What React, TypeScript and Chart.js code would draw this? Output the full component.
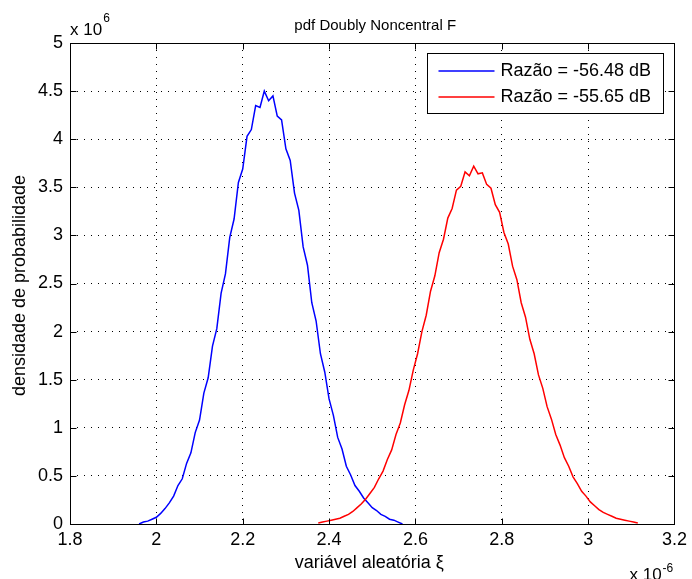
import React, { useEffect, useRef } from 'react';
import { Chart, registerables } from 'chart.js';

Chart.register(...registerables);

const FONT = "'Liberation Sans', Arial, Helvetica, sans-serif";

// ---- data (x in units of 1e-6, y in units of 1e6) ----
const xTickValues = [1.8, 2.0, 2.2, 2.4, 2.6, 2.8, 3.0, 3.2];
const xTickLabels = ['1.8', '2', '2.2', '2.4', '2.6', '2.8', '3', '3.2'];
const yTickValues = [0, 0.5, 1, 1.5, 2, 2.5, 3, 3.5, 4, 4.5, 5];
const yTickLabels = ['0', '0.5', '1', '1.5', '2', '2.5', '3', '3.5', '4', '4.5', '5'];

const seriesLabels = ['Razão = -56.48 dB', 'Razão = -55.65 dB'];

const blueX = [
  1.96, 1.97, 1.98, 1.99, 2.0, 2.01, 2.02, 2.03, 2.04, 2.05,
  2.06, 2.07, 2.08, 2.09, 2.1, 2.11, 2.12, 2.13, 2.14, 2.15,
  2.16, 2.17, 2.18, 2.19, 2.2, 2.21, 2.22, 2.23, 2.24, 2.25,
  2.26, 2.27, 2.28, 2.29, 2.3, 2.31, 2.32, 2.33, 2.34, 2.35,
  2.36, 2.37, 2.38, 2.39, 2.4, 2.41, 2.42, 2.43, 2.44, 2.45,
  2.46, 2.47, 2.48, 2.49, 2.5, 2.51, 2.52, 2.53, 2.54, 2.55,
  2.56, 2.57,
];
const blueY = [
  0.0, 0.02, 0.03, 0.05, 0.07, 0.11, 0.16, 0.22, 0.29, 0.4,
  0.47, 0.63, 0.74, 0.95, 1.08, 1.36, 1.52, 1.85, 2.03, 2.4,
  2.6, 2.98, 3.17, 3.55, 3.69, 4.03, 4.1, 4.35, 4.33, 4.5,
  4.4, 4.45, 4.24, 4.2, 3.9, 3.78, 3.44, 3.26, 2.88, 2.69,
  2.3, 2.11, 1.77, 1.58, 1.3, 1.13, 0.9, 0.78, 0.6, 0.51,
  0.4, 0.34, 0.27, 0.22, 0.17, 0.14, 0.1, 0.08, 0.05, 0.04,
  0.02, 0.0,
];

const redX = [
  2.375, 2.385, 2.395, 2.405, 2.415, 2.425, 2.435, 2.445, 2.455, 2.465,
  2.475, 2.485, 2.495, 2.505, 2.515, 2.525, 2.535, 2.545, 2.555, 2.565,
  2.575, 2.585, 2.595, 2.605, 2.615, 2.625, 2.635, 2.645, 2.655, 2.665,
  2.675, 2.685, 2.695, 2.705, 2.715, 2.725, 2.735, 2.745, 2.755, 2.765,
  2.775, 2.785, 2.795, 2.805, 2.815, 2.825, 2.835, 2.845, 2.855, 2.865,
  2.875, 2.885, 2.895, 2.905, 2.915, 2.925, 2.935, 2.945, 2.955, 2.965,
  2.975, 2.985, 2.995, 3.005, 3.015, 3.025, 3.035, 3.045, 3.055, 3.065,
  3.075, 3.085, 3.095, 3.105, 3.115,
];
const redY = [
  0.01, 0.02, 0.03, 0.04, 0.05, 0.06, 0.08, 0.1, 0.13, 0.17,
  0.21, 0.26, 0.32, 0.38, 0.47, 0.55, 0.67, 0.77, 0.93, 1.05,
  1.24, 1.39, 1.6, 1.77, 2.0, 2.17, 2.42, 2.58, 2.82, 2.96,
  3.18, 3.28, 3.47, 3.51, 3.66, 3.62, 3.72, 3.64, 3.65, 3.53,
  3.49, 3.32, 3.24, 3.03, 2.91, 2.68, 2.54, 2.3, 2.15, 1.92,
  1.77, 1.55, 1.41, 1.22, 1.09, 0.93, 0.82, 0.69, 0.6, 0.49,
  0.42, 0.34, 0.29, 0.23, 0.19, 0.15, 0.12, 0.1, 0.08, 0.06,
  0.05, 0.04, 0.03, 0.02, 0.01,
];

const BLUE = 'rgb(0, 0, 255)';
const RED = 'rgb(255, 0, 0)';
const LEGEND_COLORS = [BLUE, RED];

const overlayPlugin = {
  id: 'matlabOverlay',
  afterDraw(chart: any) {
    const { ctx, chartArea: a, scales } = chart;
    const L = Math.round(a.left) + 0.5;
    const R = Math.round(a.right) + 0.5;
    const T = Math.round(a.top) + 0.5;
    const B = Math.round(a.bottom) + 0.5;
    ctx.save();
    ctx.setLineDash([]);
    ctx.strokeStyle = '#000';
    ctx.lineWidth = 1;
    // axes box
    ctx.strokeRect(L, T, R - L, B - T);
    // inward ticks
    const tl = 6;
    ctx.beginPath();
    for (const v of xTickValues) {
      const px = Math.round(scales.x.getPixelForValue(v)) + 0.5;
      ctx.moveTo(px, B); ctx.lineTo(px, B - tl);
      ctx.moveTo(px, T); ctx.lineTo(px, T + tl);
    }
    for (const v of yTickValues) {
      const py = Math.round(scales.y.getPixelForValue(v)) + 0.5;
      ctx.moveTo(L, py); ctx.lineTo(L + tl, py);
      ctx.moveTo(R, py); ctx.lineTo(R - tl, py);
    }
    ctx.stroke();

    ctx.fillStyle = '#000';
    // title
    ctx.font = `15px ${FONT}`;
    ctx.textAlign = 'center';
    ctx.textBaseline = 'alphabetic';
    ctx.fillText('pdf Doubly Noncentral F', (a.left + a.right) / 2 + 3, a.top - 13);

    // y exponent (top-left)
    ctx.textAlign = 'left';
    ctx.font = `17px ${FONT}`;
    const baseTxt = 'x 10';
    const w1 = ctx.measureText(baseTxt).width;
    ctx.fillText(baseTxt, a.left, a.top - 8);
    ctx.font = `12px ${FONT}`;
    ctx.fillText('6', a.left + w1 + 1, a.top - 21);

    // x exponent (bottom-right)
    ctx.font = `17px ${FONT}`;
    const bx = a.right - 45;
    ctx.fillText(baseTxt, bx, a.bottom + 56);
    ctx.font = `12px ${FONT}`;
    ctx.fillText('-6', bx + w1 + 1, a.bottom + 48);

    // x axis label
    ctx.font = `18px ${FONT}`;
    ctx.textAlign = 'center';
    ctx.fillText('variável aleatória ξ', (a.left + a.right) / 2 - 3, a.bottom + 44);

    // y axis label
    ctx.save();
    ctx.translate(a.left - 45, (a.top + a.bottom) / 2 + 2);
    ctx.rotate(-Math.PI / 2);
    ctx.textAlign = 'center';
    ctx.textBaseline = 'alphabetic';
    ctx.fillText('densidade de probabilidade', 0, 0);
    ctx.restore();

    // legend
    const lw = 236;
    const lh = 60;
    const lx = Math.round(a.right - 11 - lw) + 0.5;
    const ly = Math.round(a.top + 10) + 0.5;
    ctx.fillStyle = '#fff';
    ctx.fillRect(lx, ly, lw, lh);
    ctx.strokeStyle = '#000';
    ctx.lineWidth = 1;
    ctx.strokeRect(lx, ly, lw, lh);
    for (let i = 0; i < seriesLabels.length; i++) {
      const cy = Math.round(ly + 17 + i * 26);
      ctx.save();
      ctx.strokeStyle = LEGEND_COLORS[i];
      ctx.lineWidth = 1.7;
      ctx.beginPath();
      ctx.moveTo(lx + 11, cy);
      ctx.lineTo(lx + 67, cy);
      ctx.stroke();
      ctx.restore();
    }
    ctx.font = `18px ${FONT}`;
    ctx.textAlign = 'left';
    ctx.textBaseline = 'middle';
    ctx.fillStyle = '#000';
    for (let i = 0; i < seriesLabels.length; i++) {
      const cy = ly + 17 + i * 26;
      ctx.fillText(seriesLabels[i], lx + 73, cy + 1);
    }
    ctx.restore();
  },
};

export default function App() {
  const canvasRef = useRef<HTMLCanvasElement | null>(null);

  useEffect(() => {
    const canvas = canvasRef.current;
    if (!canvas) return;
    const chart = new Chart(canvas, {
      type: 'line',
      data: {
        datasets: [
          {
            label: seriesLabels[0],
            data: blueX.map((x, i) => ({ x, y: blueY[i] })),
            borderColor: BLUE,
            backgroundColor: BLUE,
            borderWidth: 1.5,
            pointRadius: 0,
            tension: 0,
            fill: false,
            order: 1,
          },
          {
            label: seriesLabels[1],
            data: redX.map((x, i) => ({ x, y: redY[i] })),
            borderColor: RED,
            backgroundColor: RED,
            borderWidth: 1.5,
            pointRadius: 0,
            tension: 0,
            fill: false,
            order: 0,
          },
        ],
      },
      options: {
        animation: false,
        responsive: false,
        devicePixelRatio: 1,
        layout: { padding: { left: 0, right: 14, top: 43, bottom: 0 } },
        plugins: {
          legend: { display: false },
          title: { display: false },
          tooltip: { enabled: false },
        },
        scales: {
          x: {
            type: 'linear',
            min: 1.8,
            max: 3.2,
            afterBuildTicks: (s: any) => {
              s.ticks = xTickValues.map((v) => ({ value: v }));
            },
            afterFit: (s: any) => {
              s.height = 55;
            },
            ticks: {
              callback: (_v: any, i: number) => xTickLabels[i],
              autoSkip: false,
              maxRotation: 0,
              minRotation: 0,
              padding: 5,
              color: '#000',
              font: { family: FONT, size: 18 },
            },
            grid: { color: '#000', lineWidth: 1, drawTicks: false },
            border: { display: false, dash: [1, 6] },
          },
          y: {
            type: 'linear',
            min: 0,
            max: 5,
            afterBuildTicks: (s: any) => {
              s.ticks = yTickValues.map((v) => ({ value: v }));
            },
            afterFit: (s: any) => {
              s.width = 70;
            },
            ticks: {
              callback: (_v: any, i: number) => yTickLabels[i],
              autoSkip: false,
              padding: 7,
              color: '#000',
              font: { family: FONT, size: 18 },
            },
            grid: { color: '#000', lineWidth: 1, drawTicks: false },
            border: { display: false, dash: [1, 6] },
          },
        },
      },
      plugins: [overlayPlugin],
    } as any);
    return () => chart.destroy();
  }, []);

  return (
    <div style={{ position: 'absolute', left: 0, top: 0, width: 692, height: 579, background: '#fff' }}>
      <canvas ref={canvasRef} width={692} height={579} style={{ display: 'block' }} />
    </div>
  );
}
